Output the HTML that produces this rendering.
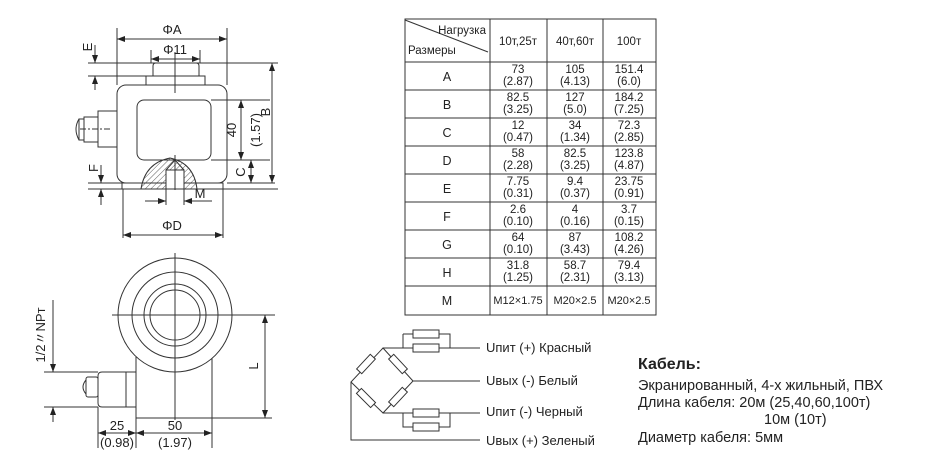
<!DOCTYPE html>
<html><head><meta charset="utf-8"><style>
html,body{margin:0;padding:0;background:#fff;width:943px;height:457px;overflow:hidden}
svg{position:absolute;left:0;top:0}
text{font-family:"Liberation Sans","DejaVu Sans",sans-serif;fill:#222}
</style></head><body>
<svg width="943" height="457" viewBox="0 0 943 457" xmlns="http://www.w3.org/2000/svg">
<defs>
<marker id="a" markerWidth="8" markerHeight="6" refX="8" refY="3" orient="auto-start-reverse" markerUnits="userSpaceOnUse"><path d="M0,0 L8,3 L0,6 z" fill="#222"/></marker>
<pattern id="h" width="4" height="4" patternUnits="userSpaceOnUse" patternTransform="rotate(45)"><line x1="0" y1="0" x2="0" y2="4" stroke="#333" stroke-width="0.8"/></pattern>
</defs>
<g stroke="#333" stroke-width="1" fill="none">
<line x1="117" y1="28" x2="117" y2="85"/><line x1="227" y1="28" x2="227" y2="85"/>
<line x1="117" y1="39" x2="227" y2="39" marker-start="url(#a)" marker-end="url(#a)"/>
<line x1="151" y1="50" x2="151" y2="63"/><line x1="200" y1="50" x2="200" y2="63"/>
<line x1="151" y1="59" x2="200" y2="59" marker-start="url(#a)" marker-end="url(#a)"/>
<line x1="88" y1="63" x2="278" y2="63"/>
<line x1="88" y1="76" x2="153" y2="76"/>
<line x1="95" y1="45" x2="95" y2="63" marker-end="url(#a)"/><line x1="95" y1="90" x2="95" y2="76" marker-end="url(#a)"/>
<path d="M153,76 V66 Q153,63 156,63 H196 Q199,63 199,66 V76 Z"/>
<rect x="146" y="76" width="59" height="9"/>
<rect x="117" y="85" width="110" height="98" rx="9"/>
<rect x="137" y="100" width="74" height="60" rx="7"/>
<rect x="98" y="111" width="19" height="36"/>
<rect x="84" y="117" width="14" height="25"/>
<rect x="79" y="119" width="5" height="21"/>
<path d="M79,119 Q73,129 79,140"/>
<line x1="80" y1="129" x2="112" y2="129" stroke-dasharray="6,2,2,2"/>
<rect x="122" y="183" width="101" height="6"/>
<path d="M141,189 Q145,163 170,158 Q194,163 197,189 Z" fill="url(#h)"/>
<rect x="166" y="170" width="18" height="19" fill="#fff"/>
<path d="M166,170 L175,160 L184,170"/>
<line x1="175" y1="52" x2="175" y2="93"/><line x1="175" y1="155" x2="175" y2="190"/>
<line x1="88" y1="189" x2="278" y2="189"/>
<line x1="88" y1="183" x2="122" y2="183"/>
<line x1="101" y1="165" x2="101" y2="183" marker-end="url(#a)"/><line x1="101" y1="205" x2="101" y2="189" marker-end="url(#a)"/>
<line x1="211" y1="100" x2="270" y2="100"/><line x1="211" y1="160" x2="270" y2="160"/>
<line x1="241" y1="100" x2="241" y2="160" marker-start="url(#a)" marker-end="url(#a)"/>
<line x1="251" y1="160" x2="251" y2="183" marker-start="url(#a)" marker-end="url(#a)"/>
<line x1="272" y1="63" x2="272" y2="183" marker-start="url(#a)" marker-end="url(#a)"/>
<line x1="227" y1="183" x2="275" y2="183"/>
<line x1="166" y1="189" x2="166" y2="205"/><line x1="184" y1="189" x2="184" y2="205"/>
<line x1="145" y1="201" x2="166" y2="201" marker-end="url(#a)"/><line x1="212" y1="201" x2="184" y2="201" marker-end="url(#a)"/>
<line x1="123" y1="189" x2="123" y2="238"/><line x1="223" y1="189" x2="223" y2="238"/>
<line x1="123" y1="235" x2="223" y2="235" marker-start="url(#a)" marker-end="url(#a)"/>
<line x1="136" y1="357" x2="136" y2="418"/><line x1="212" y1="357" x2="212" y2="418"/>
<circle cx="175" cy="315" r="57" fill="#fff"/>
<circle cx="175" cy="315" r="43"/><circle cx="175" cy="315" r="31"/><circle cx="175" cy="315" r="25"/>
<line x1="112" y1="315" x2="240" y2="315"/><line x1="175" y1="253" x2="175" y2="420"/>
<line x1="136" y1="418" x2="272" y2="418"/>
<line x1="240" y1="315" x2="275" y2="315"/>
<line x1="265" y1="315" x2="265" y2="418" marker-start="url(#a)" marker-end="url(#a)"/>
<path d="M136,372 H102 Q98,372 98,376 V403 Q98,407 102,407 H136"/>
<line x1="126" y1="372" x2="126" y2="407"/>
<rect x="86" y="377" width="12" height="20" rx="2"/>
<path d="M86,380 Q80,387 86,394"/>
<line x1="44" y1="372" x2="98" y2="372"/><line x1="44" y1="407" x2="98" y2="407"/>
<line x1="53" y1="300" x2="53" y2="372" marker-end="url(#a)"/><line x1="53" y1="422" x2="53" y2="407" marker-end="url(#a)"/>
<line x1="98" y1="407" x2="98" y2="448"/><line x1="136" y1="418" x2="136" y2="448"/><line x1="212" y1="418" x2="212" y2="448"/>
<line x1="98" y1="433" x2="136" y2="433" marker-start="url(#a)" marker-end="url(#a)"/>
<line x1="136" y1="433" x2="212" y2="433" marker-start="url(#a)" marker-end="url(#a)"/>
<path d="M383,348 L351,382 L383,413 L413,381 Z"/>
<path d="M383,348 H403 M403,334 V348 M403,334 H450 V348 M403,348 H480"/>
<rect x="413" y="330" width="26" height="8" fill="#fff"/><rect x="413" y="344" width="26" height="8" fill="#fff"/>
<line x1="413" y1="381" x2="480" y2="381"/>
<path d="M383,413 H480 M403,413 V427 H450 V413"/>
<rect x="413" y="409" width="26" height="8" fill="#fff"/><rect x="413" y="423" width="26" height="8" fill="#fff"/>
<path d="M351,382 V440 H480"/>
<g fill="#fff">
<rect x="-10" y="-3.5" width="20" height="7" transform="translate(366,364) rotate(-47)"/>
<rect x="-10" y="-3.5" width="20" height="7" transform="translate(398,364) rotate(47)"/>
<rect x="-10" y="-3.5" width="20" height="7" transform="translate(366,398) rotate(45)"/>
<rect x="-10" y="-3.5" width="20" height="7" transform="translate(398,397) rotate(-47)"/>
</g>
<rect x="405" y="19" width="251" height="296"/>
<line x1="490" y1="19" x2="490" y2="315"/><line x1="547" y1="19" x2="547" y2="315"/><line x1="603" y1="19" x2="603" y2="315"/>
<line x1="405" y1="20" x2="488" y2="52"/>
<line x1="405" y1="62" x2="656" y2="62"/><line x1="405" y1="90" x2="656" y2="90"/><line x1="405" y1="118" x2="656" y2="118"/>
<line x1="405" y1="146" x2="656" y2="146"/><line x1="405" y1="174" x2="656" y2="174"/><line x1="405" y1="202" x2="656" y2="202"/>
<line x1="405" y1="230" x2="656" y2="230"/><line x1="405" y1="258" x2="656" y2="258"/><line x1="405" y1="286" x2="656" y2="286"/>
</g>
<g font-size="13">
<text x="172" y="34" text-anchor="middle">ΦA</text>
<text x="175" y="54" text-anchor="middle">Φ11</text>
<text x="92" y="47" transform="rotate(-90 92 47)" text-anchor="middle">E</text>
<text x="98" y="168" transform="rotate(-90 98 168)" text-anchor="middle">F</text>
<text x="236" y="130" transform="rotate(-90 236 130)" text-anchor="middle">40</text>
<text x="260" y="130" transform="rotate(-90 260 130)" text-anchor="middle">(1.57)</text>
<text x="270" y="112" transform="rotate(-90 270 112)" text-anchor="middle">B</text>
<text x="245" y="172" transform="rotate(-90 245 172)" text-anchor="middle">C</text>
<text x="200" y="198" text-anchor="middle">M</text>
<text x="172" y="230" text-anchor="middle">ΦD</text>
<text x="258" y="366" transform="rotate(-90 258 366)" text-anchor="middle">L</text>
<text x="45" y="335" transform="rotate(-90 45 335)" text-anchor="middle">1/2〃NPт</text>
<text x="117" y="430" text-anchor="middle">25</text>
<text x="117" y="447" text-anchor="middle">(0.98)</text>
<text x="175" y="430" text-anchor="middle">50</text>
<text x="175" y="447" text-anchor="middle">(1.97)</text>
</g>
<g font-size="13">
<text x="486" y="352">Uпит (+) Красный</text>
<text x="486" y="385">Uвых (-) Белый</text>
<text x="486" y="416">Uпит (-) Черный</text>
<text x="486" y="445">Uвых (+) Зеленый</text>
</g>
<g font-size="14.5">
<text x="638" y="369" font-weight="bold" font-size="16">Кабель:</text>
<text x="638" y="390">Экранированный, 4-х жильный, ПВХ</text>
<text x="638" y="407">Длина кабеля: 20м (25,40,60,100т)</text>
<text x="764" y="424">10м (10т)</text>
<text x="638" y="442">Диаметр кабеля: 5мм</text>
</g>
<g font-size="11.5" text-anchor="middle">
<text x="486" y="34" text-anchor="end">Нагрузка</text>
<text x="408" y="54" text-anchor="start">Размеры</text>
<text x="518" y="45">10т,25т</text><text x="575" y="45">40т,60т</text><text x="629" y="45">100т</text>
<g font-size="12.5">
<text x="447" y="81">A</text><text x="447" y="109">B</text><text x="447" y="137">C</text><text x="447" y="165">D</text>
<text x="447" y="193">E</text><text x="447" y="221">F</text><text x="447" y="249">G</text><text x="447" y="277">H</text><text x="447" y="305">M</text>
</g>
<text x="518" y="73">73</text><text x="518" y="85">(2.87)</text><text x="575" y="73">105</text><text x="575" y="85">(4.13)</text><text x="629" y="73">151.4</text><text x="629" y="85">(6.0)</text>
<text x="518" y="101">82.5</text><text x="518" y="113">(3.25)</text><text x="575" y="101">127</text><text x="575" y="113">(5.0)</text><text x="629" y="101">184.2</text><text x="629" y="113">(7.25)</text>
<text x="518" y="129">12</text><text x="518" y="141">(0.47)</text><text x="575" y="129">34</text><text x="575" y="141">(1.34)</text><text x="629" y="129">72.3</text><text x="629" y="141">(2.85)</text>
<text x="518" y="157">58</text><text x="518" y="169">(2.28)</text><text x="575" y="157">82.5</text><text x="575" y="169">(3.25)</text><text x="629" y="157">123.8</text><text x="629" y="169">(4.87)</text>
<text x="518" y="185">7.75</text><text x="518" y="197">(0.31)</text><text x="575" y="185">9.4</text><text x="575" y="197">(0.37)</text><text x="629" y="185">23.75</text><text x="629" y="197">(0.91)</text>
<text x="518" y="213">2.6</text><text x="518" y="225">(0.10)</text><text x="575" y="213">4</text><text x="575" y="225">(0.16)</text><text x="629" y="213">3.7</text><text x="629" y="225">(0.15)</text>
<text x="518" y="241">64</text><text x="518" y="253">(0.10)</text><text x="575" y="241">87</text><text x="575" y="253">(3.43)</text><text x="629" y="241">108.2</text><text x="629" y="253">(4.26)</text>
<text x="518" y="269">31.8</text><text x="518" y="281">(1.25)</text><text x="575" y="269">58.7</text><text x="575" y="281">(2.31)</text><text x="629" y="269">79.4</text><text x="629" y="281">(3.13)</text>
<text x="518" y="304" font-size="11">M12×1.75</text><text x="575" y="304" font-size="11">M20×2.5</text><text x="629" y="304" font-size="11">M20×2.5</text>
</g>
</svg>
</body></html>
